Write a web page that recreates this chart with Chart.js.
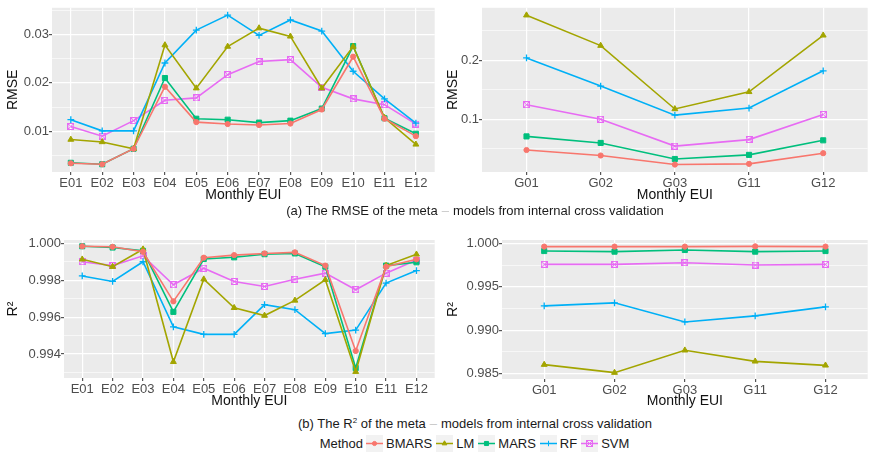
<!DOCTYPE html>
<html>
<head>
<meta charset="utf-8">
<script src="https://cdn.jsdelivr.net/npm/chart.js@4.4.1/dist/chart.umd.min.js"></script>
<style>
    body { margin: 0; background: #fff; width: 873px; height: 462px; position: relative; overflow: hidden; font-family: 'Liberation Sans', Arial, sans-serif; }
    canvas.panel { position: absolute; }
    .caption { position: absolute; left: 225px; width: 500px; text-align: center; font-size: 13px; color: #1a1a1a; white-space: nowrap; }
    .caption .dash { color: #c8c8c8; margin: 0 4px; }
    #legend { position: absolute; left: 225px; width: 500px; top: 434px; height: 18px; display: flex; justify-content: center; align-items: center; font-size: 13px; color: #1a1a1a; }
    #legend canvas { margin: 0 3px 0 3px; }
    #legend span.name { margin-right: 1px; }
</style>
</head>
<body>
<canvas id="rmseE" class="panel" width="440" height="204" style="left:0;top:0"></canvas>
<canvas id="rmseG" class="panel" width="433" height="204" style="left:440px;top:0"></canvas>
<canvas id="r2E" class="panel" width="440" height="185" style="left:0;top:225px"></canvas>
<canvas id="r2G" class="panel" width="433" height="185" style="left:440px;top:225px"></canvas>
<div class="caption" style="top:203px">(a) The RMSE of the meta<span class="dash">–</span>models from internal cross validation</div>
<div class="caption" style="top:416px">(b) The R<sup style="font-size:8px">2</sup> of the meta<span class="dash">–</span>models from internal cross validation</div>
<div id="legend"><span>Method</span></div>
<script>
const methods = ['BMARS', 'LM', 'MARS', 'RF', 'SVM'];
const monthsE = ['E01', 'E02', 'E03', 'E04', 'E05', 'E06', 'E07', 'E08', 'E09', 'E10', 'E11', 'E12'];
const monthsG = ['G01', 'G02', 'G03', 'G11', 'G12'];

// RMSE, E months
const rmseE_BMARS = [0.0034, 0.0032, 0.0064, 0.0192, 0.0119, 0.0115, 0.0113, 0.0116, 0.0145, 0.0254, 0.0126, 0.0090];
const rmseE_LM    = [0.0083, 0.0078, 0.0064, 0.0278, 0.0189, 0.0275, 0.0313, 0.0296, 0.0189, 0.0275, 0.0128, 0.0073];
const rmseE_MARS  = [0.0035, 0.0032, 0.0064, 0.0210, 0.0126, 0.0124, 0.0118, 0.0122, 0.0147, 0.0276, 0.0127, 0.0095];
const rmseE_RF    = [0.0124, 0.0101, 0.0101, 0.0241, 0.0309, 0.0340, 0.0298, 0.0330, 0.0307, 0.0224, 0.0167, 0.0117];
const rmseE_SVM   = [0.0110, 0.0090, 0.0122, 0.0164, 0.0169, 0.0217, 0.0244, 0.0248, 0.0191, 0.0167, 0.0155, 0.0115];

// RMSE, G months
const rmseG_BMARS = [0.048, 0.0387, 0.0234, 0.0246, 0.0426];
const rmseG_LM    = [0.276, 0.2246, 0.1174, 0.1464, 0.242];
const rmseG_MARS  = [0.071, 0.060, 0.0328, 0.0398, 0.0644];
const rmseG_RF    = [0.2038, 0.1562, 0.107, 0.119, 0.182];
const rmseG_SVM   = [0.1246, 0.100, 0.0546, 0.0656, 0.1082];

// R2, E months
const r2E_BMARS = [0.99985, 0.99982, 0.99955, 0.99686, 0.99923, 0.99937, 0.99946, 0.99952, 0.99880, 0.99417, 0.99874, 0.99914];
const r2E_LM    = [0.99914, 0.99874, 0.99969, 0.99358, 0.99806, 0.99651, 0.99609, 0.99691, 0.99803, 0.99304, 0.99880, 0.99941];
const r2E_MARS  = [0.99985, 0.99978, 0.99960, 0.99629, 0.99916, 0.99925, 0.99942, 0.99946, 0.99874, 0.99324, 0.99880, 0.99898];
const r2E_RF    = [0.99824, 0.99794, 0.99901, 0.99548, 0.99507, 0.99507, 0.99668, 0.99641, 0.99511, 0.99530, 0.99785, 0.99853];
const r2E_SVM   = [0.99901, 0.99880, 0.99933, 0.99776, 0.99866, 0.99794, 0.99767, 0.99806, 0.99839, 0.99749, 0.99839, 0.99910];

// R2, G months
const r2G_BMARS = [0.99962, 0.99962, 0.99962, 0.99965, 0.99962];
const r2G_LM    = [0.98604, 0.98512, 0.98769, 0.98642, 0.98596];
const r2G_MARS  = [0.99911, 0.99904, 0.99923, 0.99904, 0.99911];
const r2G_RF    = [0.99280, 0.99315, 0.99095, 0.99165, 0.99269];
const r2G_SVM   = [0.99758, 0.99758, 0.99777, 0.99750, 0.99758];

// y axis breaks
const rmseETicks = ['0.01', '0.02', '0.03'];
const rmseEMinor = [0.005, 0.015, 0.025, 0.035];
const rmseGTicks = ['0.1', '0.2'];
const rmseGMinor = [0.05, 0.15, 0.25];
const r2ETicks = ['0.994', '0.996', '0.998', '1.000'];
const r2EMinor = [0.993, 0.995, 0.997, 0.999];
const r2GTicks = ['0.985', '0.990', '0.995', '1.000'];
const r2GMinor = [0.9875, 0.9925, 0.9975];

const methodColors = ['#F8766D', '#A3A500', '#00BF7D', '#00B0F6', '#E76BF3'];

Chart.defaults.font.family = "'Liberation Sans', Arial, sans-serif";

function boxCross(color) {
    const c = document.createElement('canvas');
    c.width = 7;
    c.height = 7;
    const g = c.getContext('2d');
    g.strokeStyle = color;
    g.lineWidth = 1;
    g.strokeRect(0.5, 0.5, 6, 6);
    g.beginPath();
    g.moveTo(0.5, 0.5); g.lineTo(6.5, 6.5);
    g.moveTo(6.5, 0.5); g.lineTo(0.5, 6.5);
    g.stroke();
    return c;
}

const pointStyles = ['circle', 'triangle', 'rect', 'cross', boxCross(methodColors[4])];
const pointSizes = [2.6, 3.4, 3.6, 3.4, 3.5];

const panelBackground = {
    id: 'panelBackground',
    beforeDraw(chart) {
        const { ctx, chartArea: a } = chart;
        ctx.save();
        ctx.fillStyle = '#EBEBEB';
        ctx.fillRect(a.left, a.top, a.right - a.left, a.bottom - a.top);
        ctx.restore();
    }
};

function isMajor(ctx) {
    return ctx.tick && ctx.tick.txt !== '';
}

function buildPanel(canvasId, categories, series, yRange, yTicks, yMinor, yTitle, box) {
    const canvas = document.getElementById(canvasId);

    const datasets = series.map((values, i) => ({
        label: methods[i],
        data: values.map((v, j) => ({ x: j, y: v })),
        borderColor: methodColors[i],
        backgroundColor: methodColors[i],
        pointBackgroundColor: methodColors[i],
        pointBorderColor: methodColors[i],
        pointStyle: pointStyles[i],
        pointRadius: pointSizes[i],
        pointBorderWidth: i === 3 ? 1.3 : 1,
        borderWidth: 1.6,
        tension: 0
    }));

    return new Chart(canvas, {
        type: 'line',
        data: { datasets },
        plugins: [panelBackground],
        options: {
            responsive: false,
            animation: false,
            devicePixelRatio: 1,
            layout: { padding: { top: box.top, right: box.right, left: 0, bottom: 0 } },
            plugins: { legend: { display: false }, tooltip: { enabled: false } },
            scales: {
                x: {
                    type: 'linear',
                    min: -0.6,
                    max: categories.length - 0.4,
                    afterBuildTicks: scale => {
                        scale.ticks = categories.map((c, i) => ({ value: i, txt: c }));
                    },
                    afterFit: scale => { scale.height = box.xHeight; },
                    ticks: {
                        callback: (v, i, ticks) => ticks[i].txt,
                        color: '#4d4d4d',
                        font: { size: 13 },
                        padding: 1,
                        autoSkip: false,
                        maxRotation: 0
                    },
                    grid: { color: '#ffffff', lineWidth: 1.2, tickLength: 3, tickColor: '#555' },
                    border: { display: false },
                    title: { display: true, text: 'Monthly EUI', color: '#111', font: { size: 14 }, padding: { top: 0, bottom: 0 } }
                },
                y: {
                    min: yRange[0],
                    max: yRange[1],
                    afterBuildTicks: scale => {
                        const major = yTicks.map(t => ({ value: Number(t), txt: t }));
                        const minor = yMinor.map(v => ({ value: v, txt: '' }));
                        scale.ticks = major.concat(minor).sort((a, b) => a.value - b.value);
                    },
                    afterFit: scale => { scale.width = box.left; },
                    ticks: {
                        callback: (v, i, ticks) => ticks[i].txt,
                        color: '#4d4d4d',
                        font: { size: 13 },
                        padding: 0,
                        autoSkip: false
                    },
                    grid: {
                        color: '#ffffff',
                        lineWidth: ctx => isMajor(ctx) ? 1.2 : 0.6,
                        tickLength: 3,
                        tickColor: ctx => isMajor(ctx) ? '#555' : 'rgba(0,0,0,0)'
                    },
                    border: { display: false },
                    title: { display: true, text: yTitle, color: '#111', font: { size: 14 }, padding: { top: 5, bottom: 0 } }
                }
            }
        }
    });
}

function populateLegend() {
    const legend = document.getElementById('legend');
    methods.forEach((name, i) => {
        const key = document.createElement('canvas');
        key.width = 17;
        key.height = 17;
        const g = key.getContext('2d');
        g.fillStyle = '#F2F2F2';
        g.fillRect(0, 0, 17, 17);
        g.strokeStyle = methodColors[i];
        g.fillStyle = methodColors[i];
        g.lineWidth = 1.5;
        g.beginPath();
        g.moveTo(0, 8.5);
        g.lineTo(17, 8.5);
        g.stroke();
        g.lineWidth = 1;
        Chart.helpers.drawPoint(g, { pointStyle: pointStyles[i], radius: pointSizes[i] * 0.8, borderWidth: 1, rotation: 0 }, 8.5, 8.5);
        legend.appendChild(key);

        const label = document.createElement('span');
        label.className = 'name';
        label.textContent = name;
        legend.appendChild(label);
    });
}

buildPanel('rmseE', monthsE, [rmseE_BMARS, rmseE_LM, rmseE_MARS, rmseE_RF, rmseE_SVM],
    [0.0016, 0.0355], rmseETicks, rmseEMinor, 'RMSE', { left: 52, top: 3, right: 2, xHeight: 32 });
buildPanel('rmseG', monthsG, [rmseG_BMARS, rmseG_LM, rmseG_MARS, rmseG_RF, rmseG_SVM],
    [0.0108, 0.2886], rmseGTicks, rmseGMinor, 'RMSE', { left: 42, top: 3, right: 1, xHeight: 32 });
buildPanel('r2E', monthsE, [r2E_BMARS, r2E_LM, r2E_MARS, r2E_RF, r2E_SVM],
    [0.9927, 1.00019], r2ETicks, r2EMinor, 'R²', { left: 64, top: 15, right: 1, xHeight: 32 });
buildPanel('r2G', monthsG, [r2G_BMARS, r2G_LM, r2G_MARS, r2G_RF, r2G_SVM],
    [0.98439, 1.00038], r2GTicks, r2GMinor, 'R²', { left: 62, top: 15, right: 1, xHeight: 31 });
populateLegend();
</script>
</body>
</html>
